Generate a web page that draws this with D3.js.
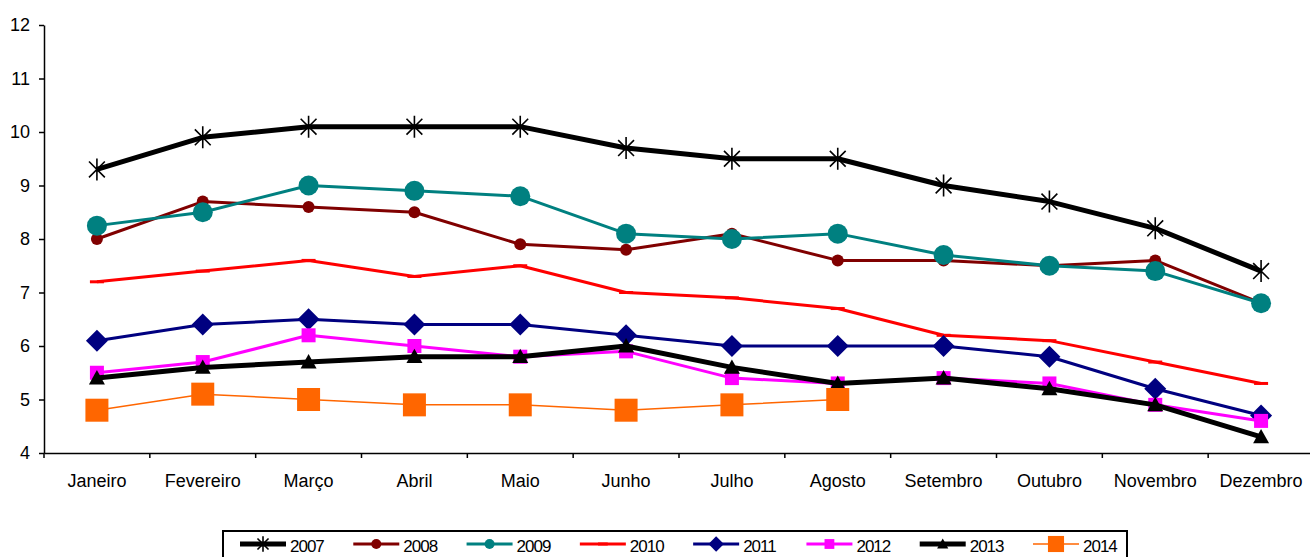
<!DOCTYPE html>
<html>
<head>
<meta charset="utf-8">
<script src="https://cdn.jsdelivr.net/npm/d3@7"></script>
<style>
  body { margin: 0; background: #fff; }
  text { font-family: "Liberation Sans", Arial, sans-serif; fill: #000; }
</style>
</head>
<body>
<div id="chart"></div>
<script>
var months = ["Janeiro", "Fevereiro", "Março", "Abril", "Maio", "Junho", "Julho", "Agosto", "Setembro", "Outubro", "Novembro", "Dezembro"];
var yTicks = [4, 5, 6, 7, 8, 9, 10, 11, 12];

var v2007 = [9.3, 9.9, 10.1, 10.1, 10.1, 9.7, 9.5, 9.5, 9.0, 8.7, 8.2, 7.4];
var v2008 = [8.0, 8.7, 8.6, 8.5, 7.9, 7.8, 8.1, 7.6, 7.6, 7.5, 7.6, 6.8];
var v2009 = [8.25, 8.5, 9.0, 8.9, 8.8, 8.1, 8.0, 8.1, 7.7, 7.5, 7.4, 6.8];
var v2010 = [7.2, 7.4, 7.6, 7.3, 7.5, 7.0, 6.9, 6.7, 6.2, 6.1, 5.7, 5.3];
var v2011 = [6.1, 6.4, 6.5, 6.4, 6.4, 6.2, 6.0, 6.0, 6.0, 5.8, 5.2, 4.7];
var v2012 = [5.5, 5.7, 6.2, 6.0, 5.8, 5.9, 5.4, 5.3, 5.4, 5.3, 4.9, 4.6];
var v2013 = [5.4, 5.6, 5.7, 5.8, 5.8, 6.0, 5.6, 5.3, 5.4, 5.2, 4.9, 4.3];
var v2014 = [4.8, 5.1, 5.0, 4.9, 4.9, 4.8, 4.9, 5.0];

var years = ["2007", "2008", "2009", "2010", "2011", "2012", "2013", "2014"];
var seriesValues = [v2007, v2008, v2009, v2010, v2011, v2012, v2013, v2014];

// look of each series (Excel default-ish palette)
var styles = {
  "2007": { color: "#000000", width: 5, marker: "star", size: 11 },
  "2008": { color: "#800000", width: 3, marker: "circle", size: 6 },
  "2009": { color: "#008080", width: 3, marker: "circle", size: 10 },
  "2010": { color: "#ff0000", width: 3, marker: "dash", size: 7 },
  "2011": { color: "#000080", width: 3, marker: "diamond", size: 11 },
  "2012": { color: "#ff00ff", width: 3, marker: "square", size: 7 },
  "2013": { color: "#000000", width: 5, marker: "triangle", size: 8 },
  "2014": { color: "#ff6600", width: 1.5, marker: "square", size: 11.5 }
};

var W = 1310, H = 557;
var plot = { left: 44, right: 1314, top: 25, bottom: 453 };

var svg = d3.select("#chart").append("svg")
  .attr("width", W)
  .attr("height", H);

var x = d3.scaleBand()
  .domain(months)
  .range([plot.left, plot.right]);

var y = d3.scaleLinear()
  .domain([4, 12])
  .range([plot.bottom, plot.top]);

// y axis
var yAxis = svg.append("g")
  .attr("transform", "translate(" + plot.left + ",0)")
  .call(d3.axisLeft(y).tickValues(yTicks).tickSize(5).tickPadding(9).tickSizeOuter(0));
yAxis.selectAll("text").style("font-size", "18px");
yAxis.selectAll("line, path").attr("stroke", "#000").attr("stroke-width", 1.5);

// x axis, ticks between categories
var xAxis = svg.append("g")
  .attr("transform", "translate(0," + plot.bottom + ")")
  .call(d3.axisBottom(x).tickSize(0));
xAxis.selectAll("text")
  .style("font-size", "18px")
  .attr("y", 34).attr("dy", 0);
xAxis.select("path").attr("stroke", "#000").attr("stroke-width", 1.5);
xAxis.selectAll(".sep")
  .data(months)
  .enter().append("line")
  .attr("class", "sep")
  .attr("x1", function(d) { return x(d); })
  .attr("x2", function(d) { return x(d); })
  .attr("y1", 0).attr("y2", 5)
  .attr("stroke", "#000").attr("stroke-width", 1.5);

function drawMarker(g, type, s, color) {
  if (type == "circle") {
    g.append("circle").attr("r", s).attr("fill", color);
  } else if (type == "square") {
    g.append("rect").attr("x", -s).attr("y", -s).attr("width", 2 * s).attr("height", 2 * s).attr("fill", color);
  } else if (type == "diamond") {
    g.append("path").attr("d", "M0," + (-s) + "L" + s + ",0L0," + s + "L" + (-s) + ",0Z").attr("fill", color);
  } else if (type == "triangle") {
    g.append("path").attr("d", "M0," + (-s) + "L" + s + "," + (s * 0.8) + "L" + (-s) + "," + (s * 0.8) + "Z").attr("fill", color);
  } else if (type == "dash") {
    g.append("line").attr("x1", -s).attr("x2", s).attr("y1", 0).attr("y2", 0)
      .attr("stroke", color).attr("stroke-width", 3);
  } else if (type == "star") {
    var d = s * 0.72;
    g.append("path")
      .attr("d", "M" + (-d) + "," + (-d) + "L" + d + "," + d + "M" + (-d) + "," + d + "L" + d + "," + (-d) + "M0," + (-s) + "L0," + s)
      .attr("stroke", color).attr("stroke-width", 1.6).attr("fill", "none");
  }
}

var line = d3.line()
  .x(function(d, i) { return x(months[i]) + x.bandwidth() / 2; })
  .y(function(d) { return y(d); });

years.forEach(function(yr, k) {
  var st = styles[yr];
  var vals = seriesValues[k];
  var g = svg.append("g").attr("class", "series s" + yr);
  g.append("path")
    .datum(vals)
    .attr("d", line)
    .attr("fill", "none")
    .attr("stroke", st.color)
    .attr("stroke-width", st.width)
    .attr("stroke-linejoin", "round");
  vals.forEach(function(v, i) {
    var m = g.append("g")
      .attr("transform", "translate(" + (x(months[i]) + x.bandwidth() / 2) + "," + y(v) + ")");
    drawMarker(m, st.marker, st.size, st.color);
  });
});

// legend
var legend = svg.append("g");
legend.append("rect")
  .attr("x", 223).attr("y", 531)
  .attr("width", 904).attr("height", 30)
  .attr("fill", "#fff").attr("stroke", "#000").attr("stroke-width", 2);

var legendX = d3.scalePoint().domain(years).range([240, 1033]);

years.forEach(function(yr) {
  var st = styles[yr];
  var lx = legendX(yr), ly = 544;
  var it = legend.append("g");
  it.append("line")
    .attr("x1", lx).attr("x2", lx + 46)
    .attr("y1", ly).attr("y2", ly)
    .attr("stroke", st.color).attr("stroke-width", st.width);
  var m = it.append("g").attr("transform", "translate(" + (lx + 23) + "," + ly + ")");
  var ms = st.marker == "circle" ? 5 : st.size * 0.7;
  drawMarker(m, st.marker, ms, st.color);
  it.append("text")
    .attr("x", lx + 50).attr("y", ly + 8)
    .style("font-size", "17px")
    .style("letter-spacing", "-1px")
    .text(yr);
});
</script>
</body>
</html>
